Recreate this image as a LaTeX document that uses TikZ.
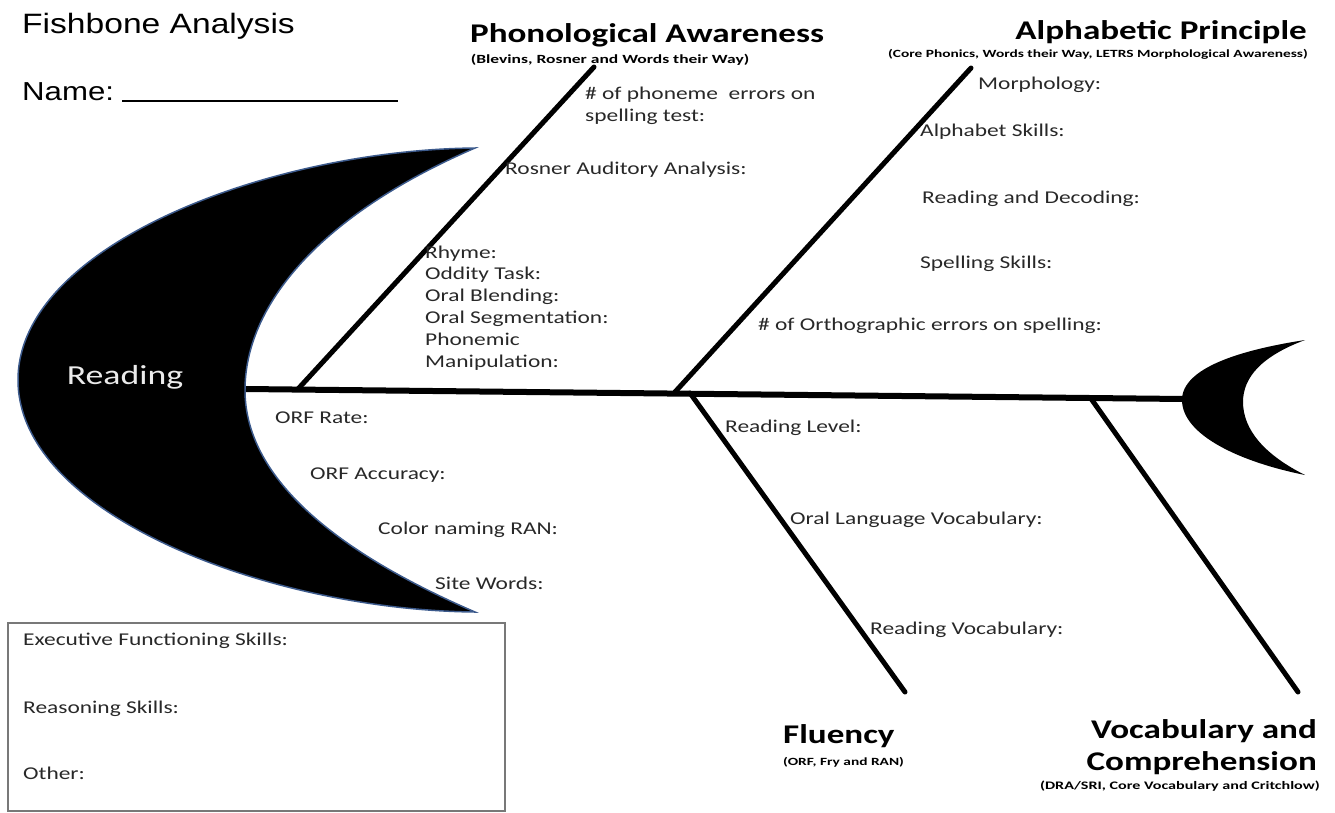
\documentclass[tikz,border=0pt]{standalone}
\usepackage{fontspec}
\setmainfont[FakeStretch=1.3]{Carlito}
\newfontfamily\widefont[FakeStretch=1.4]{Carlito}
\newfontfamily\arialfont[FakeStretch=1.2]{Liberation Sans}
\definecolor{rimblue}{RGB}{60,90,140}
\definecolor{labelgray}{RGB}{40,40,40}
\definecolor{boxgray}{RGB}{120,120,120}
\tikzset{
  lbl/.style={font=\fontsize{18}{21.7}\selectfont, text=labelgray, inner sep=0pt, anchor=base west},
  ttl/.style={font=\bfseries\fontsize{27}{30}\selectfont, inner sep=0pt},
  subttl/.style={font=\widefont\bfseries\fontsize{11}{13}\selectfont, inner sep=0pt},
  bone/.style={line width=5pt, line cap=round},
  spine/.style={line width=6pt},
  moon/.style={fill=black, draw=rimblue, line width=1.5pt},
}
\begin{document}
\begin{tikzpicture}[x=1pt,y=-1pt]
\useasboundingbox (0,0) rectangle (1335,812);

% header
\node[font=\arialfont\fontsize{28}{30}\selectfont, anchor=base west, inner sep=0pt] (title) at (22,33) {Fishbone Analysis};
\node[font=\arialfont\fontsize{26}{28}\selectfont, anchor=base west, inner sep=0pt] (name) at (22,100) {Name:};
\coordinate (nameL) at (122,101);
\coordinate (nameR) at (398,101);
\draw[line width=2pt] (nameL) -- (nameR);

% head of the fish
\path[moon] (475,148) .. controls (270,150) and (18,245) .. (18,380)
  .. controls (18,515) and (270,610) .. (475,612)
  .. controls (320,545) and (245,470) .. (245,390)
  .. controls (245,305) and (320,215) .. (475,148) -- cycle;
\node[font=\fontsize{27.5}{30}\selectfont, text=white!92!black, inner sep=0pt] (reading) at (125,377) {Reading};

% tail of the fish
\path[fill=black] (1305,340) .. controls (1240,350) and (1182,368) .. (1182,400)
  .. controls (1182,435) and (1240,462) .. (1305,475)
  .. controls (1265,455) and (1243,430) .. (1243,402)
  .. controls (1243,377) and (1262,356) .. (1305,340) -- cycle;

% spine and bones
\coordinate (head) at (246,389);
\coordinate (tail) at (1184,399);
\coordinate (jPA) at (298,389);
\coordinate (tPA) at (594,67);
\coordinate (jAP) at (675,392);
\coordinate (tAP) at (971,68);
\coordinate (jFL) at (690,393);
\coordinate (tFL) at (905,692);
\coordinate (jVC) at (1092,400);
\coordinate (tVC) at (1298,692);
\draw[spine] (head) -- (tail);
\draw[bone] (jPA) -- (tPA);
\draw[bone] (jAP) -- (tAP);
\draw[bone] (jFL) -- (tFL);
\draw[bone] (jVC) -- (tVC);

% category titles
\node[ttl, anchor=base] (paT) at (647,42) {Phonological Awareness};
\node[subttl, anchor=base, font=\widefont\bfseries\fontsize{12.5}{14}\selectfont] (paS) at (610,63) {(Blevins, Rosner and Words their Way)};
\node[ttl, anchor=base east] (apT) at (1307,39) {Alphabetic Principle};
\node[subttl, anchor=base east] (apS) at (1308,57) {(Core Phonics, Words their Way, LETRS Morphological Awareness)};
\node[ttl, anchor=base west] (flT) at (783,743) {Fluency};
\node[subttl, anchor=base west] (flS) at (783,765) {(ORF, Fry and RAN)};
\node[ttl, anchor=base east] (vcT1) at (1317,738) {Vocabulary and};
\node[ttl, anchor=base east] (vcT2) at (1317,770) {Comprehension};
\node[subttl, anchor=base east, font=\widefont\bfseries\fontsize{11.5}{13}\selectfont] (vcS) at (1320,789) {(DRA/SRI, Core Vocabulary and Critchlow)};

% phonological awareness items
\node[lbl] (pa1) at (585,99) {\# of phoneme\ \ errors on};
\node[lbl] (pa2) at (585,121) {spelling test:};
\node[lbl] (pa3) at (505,174) {Rosner Auditory Analysis:};
\node[lbl] (pa4) at (425,258) {Rhyme:};
\node[lbl] (pa5) at (425,279) {Oddity Task:};
\node[lbl] (pa6) at (425,301) {Oral Blending:};
\node[lbl] (pa7) at (425,323) {Oral Segmentation:};
\node[lbl] (pa8) at (425,345) {Phonemic};
\node[lbl] (pa9) at (425,367) {Manipulation:};

% alphabetic principle items
\node[lbl] (ap1) at (978,89) {Morphology:};
\node[lbl] (ap2) at (920,136) {Alphabet Skills:};
\node[lbl] (ap3) at (922,203) {Reading and Decoding:};
\node[lbl] (ap4) at (920,268) {Spelling Skills:};
\node[lbl] (ap5) at (758,330) {\# of Orthographic errors on spelling:};

% fluency items
\node[lbl] (fl1) at (275,423) {ORF Rate:};
\node[lbl] (fl2) at (310,479) {ORF Accuracy:};
\node[lbl] (fl3) at (378,534) {Color naming RAN:};
\node[lbl] (fl4) at (435,589) {Site Words:};

% vocabulary items
\node[lbl] (vc1) at (725,432) {Reading Level:};
\node[lbl] (vc2) at (790,524) {Oral Language Vocabulary:};
\node[lbl] (vc3) at (870,634) {Reading Vocabulary:};

% notes box
\node[draw=boxgray, line width=1.5pt, minimum width=497pt, minimum height=188pt, anchor=north west, inner sep=0pt] (notes) at (7,622) {};
\node[lbl] (nb1) at (23,645) {Executive Functioning Skills:};
\node[lbl] (nb2) at (23,713) {Reasoning Skills:};
\node[lbl] (nb3) at (23,779) {Other:};
\end{tikzpicture}
\end{document}
